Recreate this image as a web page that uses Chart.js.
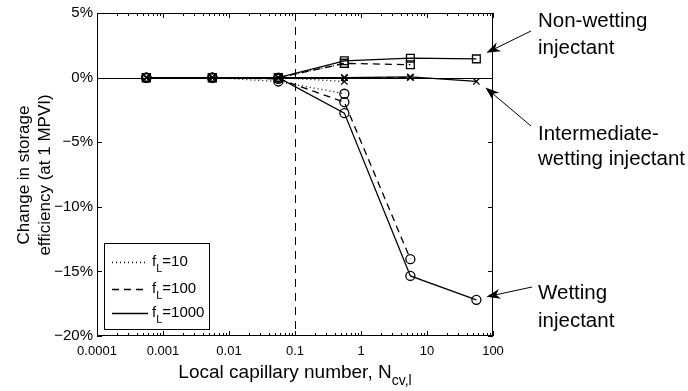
<!DOCTYPE html>
<html>
<head>
<meta charset="utf-8">
<script src="https://cdn.jsdelivr.net/npm/chart.js@4.4.1/dist/chart.umd.min.js"></script>
<style>
  html, body { margin: 0; padding: 0; background: #fff; }
  #wrap { width: 688px; height: 391px; }
</style>
</head>
<body>
<div id="wrap"><canvas id="chart" width="688" height="391"></canvas></div>
<script>
// capillary numbers of the runs (x)
const nCap = [0.00056, 0.0056, 0.056, 0.56, 5.6, 56];

// change in storage efficiency, % (y) -- one list per injectant and f_L
const nonWet10 = [0, 0, 0, 1.1];
const nonWet100 = [0, 0, 0, 1.1, 1.0];
const nonWet1000 = [0, 0, 0, 1.3, 1.5, 1.45];
const interWet10 = [0, 0, 0, -0.3];
const interWet100 = [0, 0, 0, 0, 0];
const interWet1000 = [0, 0, 0, 0, 0.05, -0.3];
const wet10 = [0, 0, -0.3, -1.25];
const wet100 = [0, 0, -0.1, -1.9, -14.05];
const wet1000 = [0, 0, 0, -2.75, -15.35, -17.2];

// axes
const xTicks = [0.0001, 0.001, 0.01, 0.1, 1, 10, 100];
const xTickLabels = ['0.0001', '0.001', '0.01', '0.1', '1', '10', '100'];
const yTicks = [5, 0, -5, -10, -15, -20];
const criticalN = 0.1;

const legendLabels = ['10', '100', '1000'];
const dashes = { f10: [1, 3], f100: [7, 5], f1000: [] };

const FONT = '"Liberation Sans", Arial, sans-serif';

function pts(vals) {
  return vals.map((y, i) => ({ x: nCap[i], y: y }));
}

function series(vals, style, dash, r) {
  return {
    data: pts(vals),
    borderColor: '#000',
    borderWidth: 1.3,
    borderDash: dash,
    pointStyle: style,
    pointRadius: r,
    pointBorderWidth: 1.3,
    pointBorderColor: '#000',
    pointBackgroundColor: 'rgba(0,0,0,0)',
    showLine: true,
    tension: 0
  };
}

// zero line and critical capillary number
const refLines = {
  id: 'refLines',
  beforeDatasetsDraw(chart) {
    const { ctx, chartArea: a, scales: { x, y } } = chart;
    ctx.save();
    ctx.strokeStyle = '#000';
    ctx.lineWidth = 1;
    const y0 = Math.round(y.getPixelForValue(0)) + 0.5;
    ctx.beginPath();
    ctx.moveTo(a.left, y0);
    ctx.lineTo(a.right, y0);
    ctx.stroke();
    const xc = Math.round(x.getPixelForValue(criticalN)) + 0.5;
    ctx.setLineDash([8, 6]);
    ctx.beginPath();
    ctx.moveTo(xc, a.top);
    ctx.lineTo(xc, a.bottom);
    ctx.stroke();
    ctx.restore();
  }
};

function arrow(ctx, x1, y1, x2, y2) {
  const ang = Math.atan2(y2 - y1, x2 - x1);
  const len = 14, half = 5;
  const c = Math.cos(ang), s = Math.sin(ang);
  ctx.beginPath();
  ctx.moveTo(x1, y1);
  ctx.lineTo(x2 - c * len * 0.7, y2 - s * len * 0.7);
  ctx.stroke();
  ctx.beginPath();
  ctx.moveTo(x2, y2);
  ctx.lineTo(x2 - c * len - s * half, y2 - s * len + c * half);
  ctx.lineTo(x2 - c * len * 0.7, y2 - s * len * 0.7);
  ctx.lineTo(x2 - c * len + s * half, y2 - s * len - c * half);
  ctx.closePath();
  ctx.fill();
}

// frame, inward ticks, titles, legend and callouts
const decorations = {
  id: 'decorations',
  afterDraw(chart) {
    const { ctx, chartArea: a, scales: { x, y } } = chart;
    ctx.save();
    ctx.strokeStyle = '#000';
    ctx.fillStyle = '#000';
    ctx.lineWidth = 1;
    ctx.strokeRect(a.left + 0.5, a.top + 0.5, a.right - a.left - 1, a.bottom - a.top - 1);

    // log ticks on top and bottom
    ctx.beginPath();
    for (let d = -4; d <= 2; d++) {
      for (let k = 1; k <= 9; k++) {
        const v = k * Math.pow(10, d);
        if (v > 100.0001) break;
        const px = Math.round(x.getPixelForValue(v)) + 0.5;
        const len = k === 1 ? 5 : 3;
        ctx.moveTo(px, a.bottom);
        ctx.lineTo(px, a.bottom - len);
        ctx.moveTo(px, a.top);
        ctx.lineTo(px, a.top + len);
      }
    }
    yTicks.forEach(v => {
      const py = Math.round(y.getPixelForValue(v)) + 0.5;
      ctx.moveTo(a.left, py);
      ctx.lineTo(a.left + 5, py);
      ctx.moveTo(a.right, py);
      ctx.lineTo(a.right - 5, py);
    });
    ctx.stroke();

    // x title with subscript
    ctx.textBaseline = 'alphabetic';
    const main = 'Local capillary number, N';
    ctx.font = '14px ' + FONT;
    const subW = ctx.measureText('cv,l').width;
    ctx.font = '19px ' + FONT;
    const mainW = ctx.measureText(main).width;
    const tx = (a.left + a.right) / 2 - (mainW + subW) / 2;
    ctx.textAlign = 'left';
    ctx.fillText(main, tx, 378);
    ctx.font = '14px ' + FONT;
    ctx.fillText('cv,l', tx + mainW, 385);

    // y title
    ctx.save();
    ctx.translate(0, 175);
    ctx.rotate(-Math.PI / 2);
    ctx.textAlign = 'center';
    ctx.font = '17px ' + FONT;
    ctx.fillText('Change in storage', 0, 29);
    ctx.fillText('efficiency (at 1 MPVI)', 0, 50);
    ctx.restore();

    // legend
    ctx.font = '15px ' + FONT;
    const fw = ctx.measureText('f').width;
    ctx.font = '11px ' + FONT;
    const lw = ctx.measureText('L').width;
    ctx.font = '15px ' + FONT;
    const widest = Math.max(...legendLabels.map(t => ctx.measureText('=' + t).width));
    const lg = { l: 104, t: 243, r: Math.round(152 + fw + lw + widest + 5), b: 329 };
    ctx.strokeRect(lg.l + 0.5, lg.t + 0.5, lg.r - lg.l, lg.b - lg.t);
    const rows = [262, 289, 313];
    const dashList = [dashes.f10, dashes.f100, dashes.f1000];
    rows.forEach((ry, i) => {
      ctx.save();
      ctx.lineWidth = 1.3;
      ctx.setLineDash(dashList[i]);
      ctx.beginPath();
      ctx.moveTo(112, ry + 0.5);
      ctx.lineTo(148, ry + 0.5);
      ctx.stroke();
      ctx.restore();
      ctx.textAlign = 'left';
      ctx.font = '15px ' + FONT;
      ctx.fillText('f', 152, ry + 4);
      ctx.font = '11px ' + FONT;
      ctx.fillText('L', 152 + fw, ry + 10);
      ctx.font = '15px ' + FONT;
      ctx.fillText('=' + legendLabels[i], 152 + fw + lw, ry + 4);
    });

    // callouts
    ctx.font = '20.5px ' + FONT;
    ctx.textAlign = 'left';
    ctx.fillText('Non-wetting', 538, 27);
    ctx.fillText('injectant', 538, 54);
    ctx.fillText('Intermediate-', 538, 140);
    ctx.fillText('wetting injectant', 538, 165);
    ctx.fillText('Wetting', 538, 299);
    ctx.fillText('injectant', 538, 327);

    ctx.lineWidth = 1;
    const lx = x.getPixelForValue(nCap[5]);
    arrow(ctx, 531, 31, lx + 10, y.getPixelForValue(nonWet1000[5]) - 6);
    arrow(ctx, 531, 126, lx + 9, y.getPixelForValue(interWet1000[5]) + 6);
    arrow(ctx, 532, 287, lx + 10, y.getPixelForValue(wet1000[5]) - 3);
    ctx.restore();
  }
};

const ctx = document.getElementById('chart').getContext('2d');
new Chart(ctx, {
  type: 'scatter',
  data: {
    datasets: [
      series(nonWet10, 'rect', dashes.f10, 5.5),
      series(nonWet100, 'rect', dashes.f100, 5.5),
      series(nonWet1000, 'rect', dashes.f1000, 5.5),
      series(interWet10, 'crossRot', dashes.f10, 4.5),
      series(interWet100, 'crossRot', dashes.f100, 4.5),
      series(interWet1000, 'crossRot', dashes.f1000, 4.5),
      series(wet10, 'circle', dashes.f10, 4.5),
      series(wet100, 'circle', dashes.f100, 4.5),
      series(wet1000, 'circle', dashes.f1000, 4.5)
    ]
  },
  options: {
    responsive: false,
    animation: false,
    devicePixelRatio: 1,
    layout: { padding: { top: 12, right: 195, left: 0, bottom: 0 } },
    plugins: { legend: { display: false }, tooltip: { enabled: false } },
    scales: {
      x: {
        type: 'logarithmic',
        min: 0.0001,
        max: 100,
        grid: { display: false, drawTicks: false },
        border: { display: false },
        afterBuildTicks: s => { s.ticks = xTicks.map(v => ({ value: v })); },
        afterFit: s => { s.height = 55; },
        ticks: {
          autoSkip: false,
          maxRotation: 0,
          padding: 8,
          color: '#000',
          font: { family: FONT, size: 13 },
          callback: (v, i) => xTickLabels[i]
        }
      },
      y: {
        min: -20,
        max: 5,
        grid: { display: false, drawTicks: false },
        border: { display: false },
        afterBuildTicks: s => { s.ticks = yTicks.map(v => ({ value: v })); },
        afterFit: s => { s.width = 97; },
        ticks: {
          padding: 4,
          color: '#000',
          font: { family: FONT, size: 15 },
          callback: v => (v < 0 ? '\u2212' + Math.abs(v) : v) + '%'
        }
      }
    }
  },
  plugins: [refLines, decorations]
});
</script>
</body>
</html>
